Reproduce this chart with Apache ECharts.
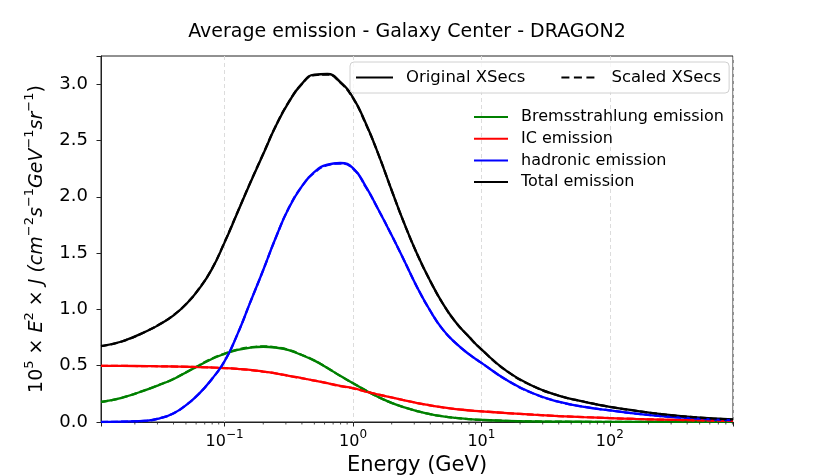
<!DOCTYPE html>
<html>
<head>
<meta charset="utf-8">
<script src="https://cdn.jsdelivr.net/npm/echarts@6/dist/echarts.min.js"></script>
<style>
html,body{margin:0;padding:0;background:#fff;}
#chart{width:814px;height:475px;}
</style>
</head>
<body>
<div id="chart"></div>
<script>
// Energy grid (GeV)
const energy = [0.0109,0.0158,0.0251,0.0316,0.0398,0.0501,0.0631,0.0794,0.1,0.126,0.158,0.2,0.251,0.316,0.398,0.501,0.631,0.794,1.0,1.259,1.585,1.995,2.512,3.162,3.981,5.012,6.31,7.943,10,15.85,25.12,39.81,63.1,100,158.5,251.2,398.1,631,910];

// Original XSecs
const bremsOrig = [0.178,0.215,0.29,0.333,0.38,0.44,0.50,0.56,0.605,0.64,0.66,0.668,0.66,0.638,0.595,0.545,0.48,0.41,0.345,0.28,0.22,0.17,0.13,0.097,0.07,0.05,0.036,0.026,0.019,0.010,0.005,0.003,0.002,0.0015,0.001,0.001,0.001,0.001,0.001];
const icOrig = [0.499,0.498,0.496,0.4945,0.493,0.4905,0.488,0.484,0.479,0.472,0.463,0.448,0.432,0.41,0.39,0.368,0.345,0.32,0.30,0.27,0.243,0.218,0.193,0.168,0.148,0.13,0.115,0.104,0.095,0.079,0.065,0.053,0.043,0.035,0.027,0.021,0.016,0.012,0.010];
const hadronicOrig = [0.0,0.003,0.012,0.035,0.075,0.15,0.25,0.38,0.54,0.78,1.06,1.35,1.64,1.90,2.09,2.22,2.285,2.30,2.255,2.09,1.88,1.66,1.43,1.195,0.99,0.82,0.70,0.605,0.525,0.37,0.255,0.18,0.135,0.103,0.075,0.053,0.036,0.023,0.016];
const totalOrig = [0.674,0.715,0.81,0.87,0.945,1.045,1.18,1.355,1.595,1.86,2.12,2.38,2.63,2.84,3.0,3.085,3.09,3.02,2.88,2.65,2.37,2.06,1.76,1.49,1.255,1.05,0.885,0.76,0.644,0.45,0.32,0.235,0.18,0.135,0.10,0.07,0.048,0.031,0.022];

// Scaled XSecs
const bremsScaled = [0.178,0.215,0.291,0.335,0.382,0.442,0.503,0.563,0.608,0.643,0.663,0.671,0.663,0.640,0.597,0.546,0.481,0.41,0.345,0.28,0.22,0.17,0.13,0.097,0.07,0.05,0.036,0.026,0.019,0.010,0.005,0.003,0.002,0.0015,0.001,0.001,0.001,0.001,0.001];
const icScaled = [0.499,0.498,0.496,0.4945,0.493,0.4905,0.488,0.484,0.479,0.471,0.462,0.447,0.431,0.409,0.389,0.367,0.344,0.319,0.299,0.27,0.243,0.218,0.193,0.168,0.148,0.13,0.115,0.104,0.095,0.079,0.065,0.053,0.043,0.035,0.027,0.021,0.016,0.012,0.010];
const hadronicScaled = [0.0,0.003,0.012,0.035,0.075,0.15,0.25,0.38,0.54,0.78,1.06,1.35,1.64,1.90,2.09,2.215,2.28,2.295,2.25,2.085,1.88,1.66,1.43,1.195,0.99,0.82,0.70,0.605,0.525,0.37,0.255,0.18,0.135,0.103,0.075,0.053,0.036,0.023,0.016];
const totalScaled = [0.674,0.715,0.811,0.872,0.947,1.048,1.183,1.358,1.598,1.863,2.123,2.383,2.632,2.842,3.0,3.08,3.085,3.015,2.875,2.645,2.37,2.06,1.76,1.49,1.255,1.05,0.885,0.76,0.644,0.45,0.32,0.235,0.18,0.135,0.10,0.07,0.048,0.031,0.022];

// Axis settings
const xMin = 0.0109, xMax = 910;
const yMin = 0, yMax = 3.25, yStep = 0.5;
const minorTickMult = [2,3,4,5,6,7,8,9];
const minorTickDecades = [0.01,0.1,1,10,100];

const FONT = 'DejaVu Sans';

const minorTicks = [];
minorTickDecades.forEach(d => minorTickMult.forEach(m => { const v = d*m; if (v > xMin && v < xMax) minorTicks.push([v, 0]); }));

function pairs(ys){ return energy.map((e,i)=>[e, ys[i]]); }

const comps = [
  {name:'Bremsstrahlung emission', color:'#008000', orig:bremsOrig, scaled:bremsScaled},
  {name:'IC emission', color:'#ff0000', orig:icOrig, scaled:icScaled},
  {name:'hadronic emission', color:'#0000ff', orig:hadronicOrig, scaled:hadronicScaled},
  {name:'Total emission', color:'#000000', orig:totalOrig, scaled:totalScaled}
];

const series = [];
comps.forEach(c => {
  series.push({type:'line', name:c.name, data:pairs(c.orig), symbol:'none', smooth:0.5,
    lineStyle:{color:c.color, width:2.3, type:'solid'}, itemStyle:{color:c.color}, z:2});
  series.push({type:'line', name:c.name, data:pairs(c.scaled), symbol:'none', smooth:0.5,
    lineStyle:{color:c.color, width:2.2, type:[7,3]}, itemStyle:{color:c.color}, z:3});
});
series.push({type:'line', name:'Original XSecs', data:[], symbol:'none', lineStyle:{color:'#000', width:2.3, type:'solid'}, itemStyle:{color:'#000'}});
series.push({type:'line', name:'Scaled XSecs', data:[], symbol:'none', lineStyle:{color:'#000', width:2.3, type:[8,4.5]}, itemStyle:{color:'#000'}});
series.push({type:'custom', name:'minor', silent:true, clip:false, data:minorTicks, z:5,
  renderItem:function(params, api){
    const p = api.coord([api.value(0), api.value(1)]);
    return {type:'line', shape:{x1:p[0], y1:p[1], x2:p[0], y2:p[1]+2.5}, style:{stroke:'#222', lineWidth:0.8}};
  }});

const expo = {'-1':'−1','0':'0','1':'1','2':'2'};

const chart = echarts.init(document.getElementById('chart'), null, {renderer:'canvas'});
chart.setOption({
  animation:false,
  backgroundColor:'#fff',
  textStyle:{fontFamily:FONT},
  title:{text:'Average emission - Galaxy Center - DRAGON2', left:'center', top:23, padding:0,
    textStyle:{fontFamily:FONT, fontSize:19, fontWeight:'normal', color:'#000'}},
  grid:{left:101, top:56, width:632, height:366, show:true, borderColor:'#222', borderWidth:1,
    containLabel:false, outerBoundsMode:'none'},
  legend:[
    {data:['Original XSecs','Scaled XSecs'], left:350, top:62, orient:'horizontal', selectedMode:false,
     itemWidth:37, itemHeight:14, itemGap:35, padding:[7,8,7,5],
     itemStyle:{opacity:0},
     backgroundColor:'rgba(255,255,255,0.8)', borderColor:'#d0d0d0', borderWidth:1, borderRadius:4,
     textStyle:{fontFamily:FONT, fontSize:16.5, color:'#000', padding:[0,0,0,8]}},
    {data:['Bremsstrahlung emission','IC emission','hadronic emission','Total emission'], left:473, top:109,
     orient:'vertical', selectedMode:false, itemWidth:34, itemHeight:14, itemGap:5.7, padding:0,
     itemStyle:{opacity:0},
     textStyle:{fontFamily:FONT, fontSize:16, color:'#000', padding:[0,0,0,8]}}
  ],
  xAxis:{type:'log', logBase:10, min:xMin, max:xMax,
    name:'Energy (GeV)', nameLocation:'middle', nameGap:33,
    nameTextStyle:{fontFamily:FONT, fontSize:21, color:'#000'},
    axisLine:{show:true, lineStyle:{color:'#222', width:1}},
    axisTick:{show:true, inside:false, length:4.5, lineStyle:{color:'#222', width:1}},
    axisLabel:{margin:7,
      formatter:function(v){ const l = Math.log10(v); const n = Math.round(l); if (Math.abs(l-n) > 1e-6) return ''; return '{b|10}{s|' + expo[String(n)] + '}'; },
      rich:{b:{fontFamily:FONT, fontSize:16, color:'#000', lineHeight:21, verticalAlign:'bottom'},
            s:{fontFamily:FONT, fontSize:12, color:'#000', lineHeight:13, verticalAlign:'top'}}},
    splitLine:{show:true, lineStyle:{color:'#dcdcdc', type:[4,3], width:1}}
  },
  yAxis:{type:'value', min:yMin, max:yMax, interval:yStep,
    name:'{n|10}{s|5}{n| × }{i|E}{s|2}{n| × }{i|J (cm}{s|−2}{i|s}{s|−1}{i|GeV}{s|−1}{i|sr}{s|−1}{n|)}',
    nameLocation:'middle', nameRotate:90, nameGap:54,
    nameTextStyle:{fontFamily:FONT, fontSize:19, color:'#000',
      rich:{n:{fontFamily:FONT, fontSize:19, color:'#000', lineHeight:24, verticalAlign:'bottom'},
            i:{fontFamily:FONT, fontSize:19, fontStyle:'italic', color:'#000', lineHeight:24, verticalAlign:'bottom'},
            s:{fontFamily:FONT, fontSize:13, color:'#000', lineHeight:14, verticalAlign:'top'}}},
    axisLine:{show:true, lineStyle:{color:'#222', width:1}},
    axisTick:{show:true, inside:false, length:4.5, lineStyle:{color:'#222', width:1}},
    axisLabel:{fontFamily:FONT, fontSize:18, color:'#000', margin:13,
      formatter:function(v){ const k = v / yStep; if (Math.abs(k - Math.round(k)) > 1e-6) return ''; return v.toFixed(1); }},
    splitLine:{show:false}
  },
  series:series
});
</script>
</body>
</html>
